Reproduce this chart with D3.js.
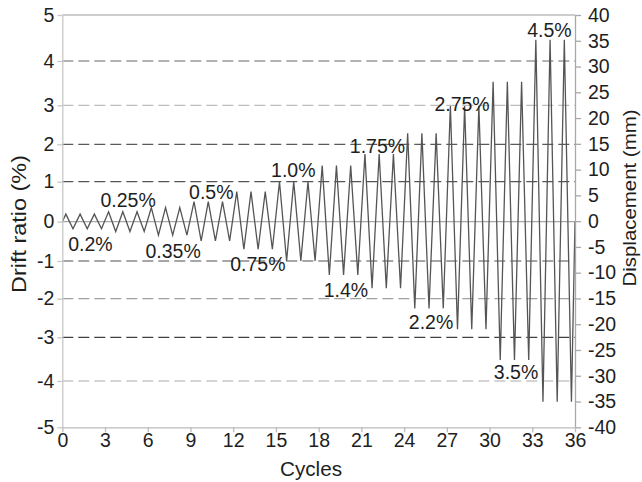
<!DOCTYPE html>
<html>
<head>
<meta charset="utf-8">
<script src="https://cdn.jsdelivr.net/npm/d3@7"></script>
<style>
  html, body { margin: 0; padding: 0; background: #fff; }
  svg { display: block; font-family: "Liberation Sans", Arial, sans-serif; }
</style>
</head>
<body>
<svg id="chart" width="642" height="482"></svg>
<script>
// ---- data ----
const levelLabels = ["0.2%","0.25%","0.35%","0.5%","0.75%","1.0%","1.4%","1.75%","2.2%","2.75%","3.5%","4.5%"];
// positive peak drift (%) of each of the 36 cycles
const peakDrift = [
  0.19, 0.19, 0.19,  0.25, 0.25, 0.25,  0.35, 0.35, 0.35,  0.50, 0.50, 0.50,
  0.75, 0.75, 0.75,  1.00, 1.00, 1.00,  1.43, 1.43, 1.43,  1.74, 1.74, 1.74,
  2.28, 2.28, 2.28,  2.98, 2.98, 2.98,  3.53, 3.53, 3.53,  4.46, 4.46, 4.46
];
// negative peak drift (%) of each of the 36 cycles
const troughDrift = [
  -0.18, -0.18, -0.18,  -0.25, -0.25, -0.25,  -0.34, -0.34, -0.34,  -0.49, -0.49, -0.49,
  -0.70, -0.70, -0.70,  -1.00, -1.00, -1.00,  -1.37, -1.37, -1.37,  -1.72, -1.72, -1.72,
  -2.25, -2.25, -2.25,  -2.79, -2.79, -2.79,  -3.52, -3.52, -3.52,  -4.45, -4.45, -4.45
];
// label anchor in data space (cycle, drift)
const labelCycle = [1.98, 4.62, 7.78, 10.46, 13.73, 16.22, 19.92, 22.13, 25.89, 28.07, 31.86, 34.2];
const labelDrift = [-0.74, 0.37, -0.93, 0.57, -1.26, 1.13, -1.95, 1.76, -2.79, 2.85, -3.96, 4.52];

const xTicks = [0, 3, 6, 9, 12, 15, 18, 21, 24, 27, 30, 33, 36];
const driftTicks = [-5, -4, -3, -2, -1, 0, 1, 2, 3, 4, 5];
const mmTicks = [-40, -35, -30, -25, -20, -15, -10, -5, 0, 5, 10, 15, 20, 25, 30, 35, 40];
const gridDrift = [4, 3, 2, 1, -1, -2, -3, -4];

// ---- styles / layout ----
const gridColor = {"4": "#9a9a9a", "3": "#bdbdbd", "2": "#5a5a5a", "1": "#555", "-1": "#8a8a8a", "-2": "#a0a0a0", "-3": "#404040", "-4": "#c8c8c8"};
const pL = 62.3, pR = 575, pT = 15, pB = 427.3;
const fontSize = 19.5;

const svg = d3.select("#chart");

const x = d3.scaleLinear().domain([0, 36]).range([pL, pR]);
// left axis tick spacing in the figure is not uniform: piecewise scale
const yDrift = d3.scaleLinear()
  .domain(driftTicks)
  .range([pB, 381, 337.3, 298.7, 261, 221.7, 181.7, 144.3, 105.3, 61, pT]);
const yMm = d3.scaleLinear().domain([-40, 40]).range([pB, pT]);

// grid lines
svg.append("g").selectAll("line").data(gridDrift).join("line")
  .attr("x1", pL).attr("x2", pR)
  .attr("y1", d => yDrift(d)).attr("y2", d => yDrift(d))
  .attr("stroke", d => gridColor[String(d)])
  .attr("stroke-width", 1.3)
  .attr("stroke-dasharray", "11,5");

// zero line
svg.append("line")
  .attr("x1", pL).attr("x2", pR)
  .attr("y1", yDrift(0)).attr("y2", yDrift(0))
  .attr("stroke", "#a8a8a8").attr("stroke-width", 1.3);

// top border
svg.append("line")
  .attr("x1", pL).attr("x2", pR)
  .attr("y1", yDrift(5)).attr("y2", yDrift(5))
  .attr("stroke", "#bcbcbc").attr("stroke-width", 1.3);

// signal
const pts = [[0, 0]];
peakDrift.forEach((p, i) => {
  pts.push([i + 0.25, p]);
  pts.push([i + 0.75, troughDrift[i]]);
});
pts.push([36, 0]);
svg.append("path")
  .datum(pts)
  .attr("fill", "none")
  .attr("stroke", "#555")
  .attr("stroke-width", 1.3)
  .attr("stroke-linejoin", "miter")
  .attr("d", d3.line().x(d => x(d[0])).y(d => yDrift(d[1])));

// axes
function styleAxis(g, color) {
  g.select(".domain").attr("stroke", color).attr("stroke-width", 1.3);
  g.selectAll(".tick line").attr("stroke", color).attr("stroke-width", 1.3);
  g.selectAll(".tick text").attr("fill", "#1e1e1e").style("font-size", fontSize + "px")
    .style("font-family", '"Liberation Sans", Arial, sans-serif');
}
const plainFmt = d => String(d);

const gl = svg.append("g").attr("transform", `translate(${pL},0)`)
  .call(d3.axisLeft(yDrift).tickValues(driftTicks).tickSize(5).tickSizeOuter(0).tickPadding(3).tickFormat(plainFmt));
styleAxis(gl, "#c8c8c8");

const gr = svg.append("g").attr("transform", `translate(${pR},0)`)
  .call(d3.axisRight(yMm).tickValues(mmTicks).tickSize(6).tickSizeOuter(0).tickPadding(7).tickFormat(plainFmt));
styleAxis(gr, "#a8a8a8");

const gb = svg.append("g").attr("transform", `translate(0,${pB})`)
  .call(d3.axisBottom(x).tickValues(xTicks).tickSize(5).tickSizeOuter(0).tickPadding(1).tickFormat(plainFmt));
styleAxis(gb, "#bcbcbc");

// level labels
svg.append("g").selectAll("text").data(levelLabels).join("text")
  .attr("x", (d, i) => x(labelCycle[i]))
  .attr("y", (d, i) => yDrift(labelDrift[i]))
  .attr("text-anchor", "middle")
  .attr("fill", "#1e1e1e")
  .style("font-size", fontSize + "px")
  .text(d => d);

// titles
svg.append("text")
  .attr("x", 311).attr("y", 476)
  .attr("text-anchor", "middle")
  .attr("fill", "#1e1e1e")
  .style("font-size", "19.5px")
  .attr("textLength", 62).attr("lengthAdjust", "spacingAndGlyphs")
  .text("Cycles");

svg.append("text")
  .attr("transform", "translate(26,224) rotate(-90)")
  .attr("text-anchor", "middle")
  .attr("fill", "#1e1e1e")
  .style("font-size", "21px")
  .attr("textLength", 138).attr("lengthAdjust", "spacingAndGlyphs")
  .text("Drift ratio (%)");

svg.append("text")
  .attr("transform", "translate(636,198) rotate(-90)")
  .attr("text-anchor", "middle")
  .attr("fill", "#1e1e1e")
  .style("font-size", "19px")
  .attr("textLength", 177).attr("lengthAdjust", "spacingAndGlyphs")
  .text("Displacement (mm)");
</script>
</body>
</html>
